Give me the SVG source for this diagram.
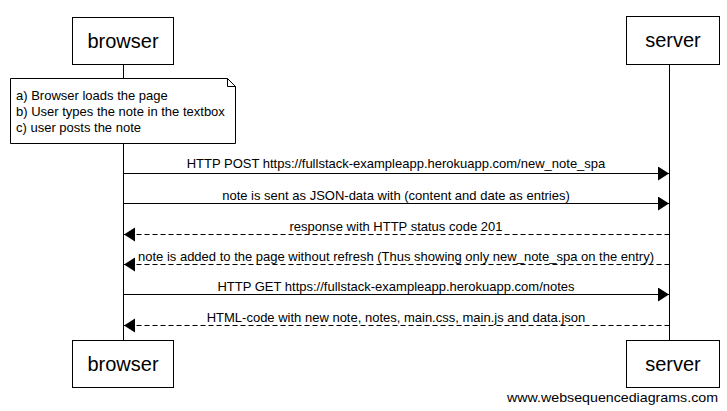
<svg xmlns="http://www.w3.org/2000/svg" width="727" height="411" viewBox="0 0 727 411">
<defs>
<style>
.box{fill:#fff;stroke:#000;stroke-width:1}
.life{stroke:#000;stroke-width:1}
.pt{font-family:"Liberation Sans",Arial,sans-serif;font-size:20px;text-anchor:middle}
.msg{font-family:"Liberation Sans",Arial,sans-serif;font-size:13px;text-anchor:middle}
.nt{font-family:"Liberation Sans",Arial,sans-serif;font-size:13px}
.solid{stroke:#000;stroke-width:1;fill:none}
.dash{stroke:#000;stroke-width:1;fill:none;stroke-dasharray:5,3}
</style>
<marker id="ah" markerUnits="userSpaceOnUse" markerWidth="12" markerHeight="16" refX="11" refY="7" orient="auto">
<path d="M0,0 L11,7 L0,14 Z" fill="#000"/>
</marker>
</defs>
<rect width="727" height="411" fill="#fff"/>
<g id="lifelines">
<line class="life" x1="123.5" y1="64" x2="123.5" y2="340"/>
<line class="life" x1="669.5" y1="64" x2="669.5" y2="340"/>
</g>
<g id="browser-top">
<rect class="box" x="72.5" y="17.5" width="101" height="47"/>
<text class="pt" x="123" y="48">browser</text>
</g>
<g id="server-top">
<rect class="box" x="626.5" y="16.5" width="93" height="48"/>
<text class="pt" x="673" y="47">server</text>
</g>
<g id="browser-bottom">
<rect class="box" x="72.5" y="340.5" width="101" height="47"/>
<text class="pt" x="123" y="371">browser</text>
</g>
<g id="server-bottom">
<rect class="box" x="626.5" y="340.5" width="93" height="47"/>
<text class="pt" x="673" y="371">server</text>
</g>
<g id="note">
<path class="box" d="M10.5,78.5 L227.5,78.5 L235.5,86.5 L235.5,143.5 L10.5,143.5 Z"/>
<path class="solid" d="M227.5,78.5 L227.5,86.5 L235.5,86.5"/>
<text class="nt" x="16" y="100">a) Browser loads the page</text>
<text class="nt" x="16" y="116">b) User types the note in the textbox</text>
<text class="nt" x="16" y="132">c) user posts the note</text>
</g>
<g id="connectors">
<line class="solid" x1="123.5" y1="173.5" x2="669" y2="173.5" marker-end="url(#ah)"/>
<line class="solid" x1="123.5" y1="203.5" x2="669" y2="203.5" marker-end="url(#ah)"/>
<line class="dash" x1="669.5" y1="234.5" x2="124" y2="234.5" marker-end="url(#ah)"/>
<line class="dash" x1="669.5" y1="264.5" x2="124" y2="264.5" marker-end="url(#ah)"/>
<line class="solid" x1="123.5" y1="294.5" x2="669" y2="294.5" marker-end="url(#ah)"/>
<line class="dash" x1="669.5" y1="325.5" x2="124" y2="325.5" marker-end="url(#ah)"/>
</g>
<g id="labels">
<text class="msg" x="396" y="168">HTTP POST https://fullstack-exampleapp.herokuapp.com/new_note_spa</text>
<text class="msg" x="396" y="200">note is sent as JSON-data with (content and date as entries)</text>
<text class="msg" x="396" y="231">response with HTTP status code 201</text>
<text class="msg" x="396" y="261">note is added to the page without refresh (Thus showing only new_note_spa on the entry)</text>
<text class="msg" x="396" y="291">HTTP GET https://fullstack-exampleapp.herokuapp.com/notes</text>
<text class="msg" x="396" y="322">HTML-code with new note, notes, main.css, main.js and data.json</text>
</g>
<text class="nt" x="718" y="402" text-anchor="end" font-size="14" textLength="211" lengthAdjust="spacingAndGlyphs">www.websequencediagrams.com</text>
</svg>
